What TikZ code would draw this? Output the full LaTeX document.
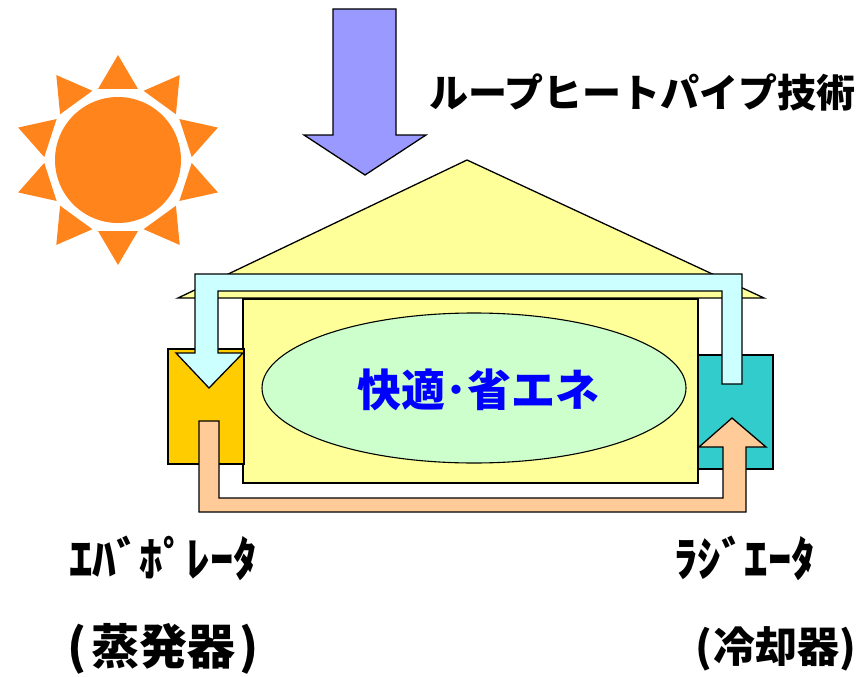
\documentclass[tikz,border=0pt]{standalone}
\usepackage{fontspec}
\newfontfamily\jp{Noto Sans CJK JP}
\definecolor{sunorange}{HTML}{FF841C}
\definecolor{heatblue}{HTML}{9999FF}
\definecolor{roofyellow}{HTML}{FFFF99}
\definecolor{roomgreen}{HTML}{CCFFCC}
\definecolor{evapyellow}{HTML}{FFCC00}
\definecolor{radteal}{HTML}{33CCCC}
\definecolor{vaporcyan}{HTML}{CCFFFF}
\definecolor{liquidpeach}{HTML}{FFCC99}
\tikzset{
  part/.style={draw=black, line width=1.3pt, line join=miter},
  label/.style={inner sep=0pt, anchor=west, font=\jp\bfseries},
  kanalabel/.style={label, font=\jp\bfseries\fontsize{47}{50}\selectfont},
  kanjilabel/.style={label, font=\jp\bfseries\fontsize{48}{52}\selectfont},
}
\begin{document}
\begin{tikzpicture}[x=1pt,y=-1pt]
\useasboundingbox (0,0) rectangle (862,677);

% sun: disc and ten rays
\fill[sunorange] (118,160) circle (63);
\foreach \a in {90,126,162,198,234,270,306,342,18,54}{
  \fill[sunorange] ([shift={(\a:105)}]118,160) -- ([shift={(\a+15.7:73.8)}]118,160)
    -- ([shift={(\a-15.7:73.8)}]118,160) -- cycle;
}

% incoming solar heat
\draw[part, fill=heatblue] (333,9) -- (396,9) -- (396,135) -- (426,135) -- (365,175)
  -- (304,135) -- (333,135) -- cycle;

% house: roof and body
\draw[part, fill=roofyellow] (178,298) -- (467,160) -- (764,298) -- cycle;
\draw[part, fill=roofyellow] (243,299) rectangle (698,483);
\draw[part, line width=1.1pt, fill=roomgreen] (474,388) ellipse (212 and 75);
\node[inner sep=0pt, text=blue, font=\jp\bfseries\fontsize{44}{48}\selectfont] (room) at (478,390) {快適･省エネ};

% evaporator and radiator
\draw[part, fill=evapyellow] (168,349) rectangle (244,464);
\draw[part, fill=radteal] (698,355) rectangle (773,469);

% vapour line: radiator side to evaporator
\draw[part, fill=vaporcyan] (195,274) -- (742,274) -- (742,384) -- (722,384) -- (722,291)
  -- (218,291) -- (218,353) -- (243,353) -- (209,388) -- (176,353) -- (195,353) -- cycle;

% liquid return line: evaporator to radiator
\draw[part, fill=liquidpeach] (199,421) -- (219,421) -- (219,498) -- (723,498) -- (723,447)
  -- (699,447) -- (732,418) -- (766,447) -- (746,447) -- (746,512) -- (199,512) -- cycle;

% labels
\node[label, font=\jp\bfseries\fontsize{39}{42}\selectfont] (title) at (429,92) {ループヒートパイプ技術};
\node[kanalabel] (evap) at (69,558) {ｴﾊﾞﾎﾟﾚｰﾀ};
\node[kanjilabel] (evapjp) at (67,649) {(\hspace{5pt}蒸発器\hspace{4pt})};
\node[kanalabel] (rad) at (674,558) {ﾗｼﾞｴｰﾀ};
\node[kanjilabel, font=\jp\bfseries\fontsize{42}{46}\selectfont] (radjp) at (695,649) {(\hspace{2pt}冷却器)};
\end{tikzpicture}
\end{document}
